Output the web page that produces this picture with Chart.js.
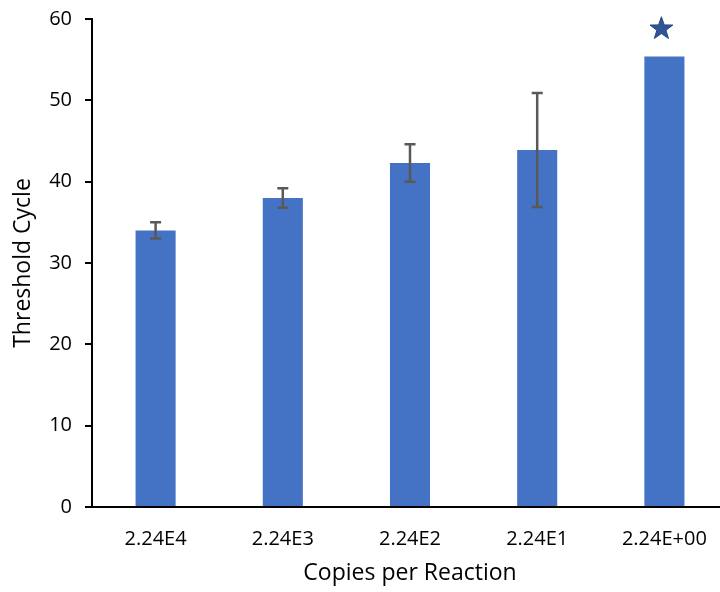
<!DOCTYPE html>
<html>
<head>
<meta charset="utf-8">
<script src="https://cdn.jsdelivr.net/npm/chart.js@4.4.1/dist/chart.umd.min.js"></script>
<style>
  html, body { margin: 0; padding: 0; overflow: hidden; background: #fff; }
  #wrap { width: 720px; height: 592px; overflow: hidden; }
</style>
</head>
<body>
<div id="wrap"><canvas id="ctChart" width="730" height="592"></canvas></div>
<script>
// copies per reaction (dilution series)
const copies = ["2.24E4", "2.24E3", "2.24E2", "2.24E1", "2.24E+00"];
// mean threshold cycle
const meanCt = [34.0, 38.0, 42.3, 43.9, 55.4];
// standard deviation (error bar half-length), none for the last dilution
const sdCt = [1.0, 1.2, 2.3, 7.0, null];
// significance marker position
const starAt = [null, null, null, null, 58.8];
const yTicks = [0, 10, 20, 30, 40, 50, 60];

const font = "'Open Sans', sans-serif";

const errorBars = {
  id: "errorBars",
  afterDatasetsDraw(chart) {
    const ctx = chart.ctx;
    const y = chart.scales.y;
    const bars = chart.getDatasetMeta(0).data;
    ctx.save();
    ctx.strokeStyle = "#595959";
    ctx.lineWidth = 2.5;
    sdCt.forEach((sd, i) => {
      if (sd == null) return;
      const x = bars[i].x;
      const top = y.getPixelForValue(meanCt[i] + sd);
      const bot = y.getPixelForValue(meanCt[i] - sd);
      ctx.beginPath();
      ctx.moveTo(x, top); ctx.lineTo(x, bot);
      ctx.moveTo(x - 5.5, top); ctx.lineTo(x + 5.5, top);
      ctx.moveTo(x - 5.5, bot); ctx.lineTo(x + 5.5, bot);
      ctx.stroke();
    });
    ctx.restore();
  }
};

const stars = {
  id: "stars",
  afterDatasetsDraw(chart) {
    const ctx = chart.ctx;
    const y = chart.scales.y;
    const bars = chart.getDatasetMeta(0).data;
    ctx.save();
    starAt.forEach((v, i) => {
      if (v == null) return;
      const cx = bars[i].x - 3;
      const cy = y.getPixelForValue(v);
      const R = 12, r = 4.8;
      ctx.beginPath();
      for (let k = 0; k < 10; k++) {
        const rad = k % 2 === 0 ? R : r;
        const a = -Math.PI / 2 + k * Math.PI / 5;
        const px = cx + rad * Math.cos(a);
        const py = cy + rad * Math.sin(a);
        if (k === 0) ctx.moveTo(px, py); else ctx.lineTo(px, py);
      }
      ctx.closePath();
      ctx.fillStyle = "#2F5597";
      ctx.fill();
      ctx.strokeStyle = "#24467f";
      ctx.lineWidth = 1;
      ctx.stroke();
    });
    ctx.restore();
  }
};

new Chart(document.getElementById("ctChart"), {
  type: "bar",
  data: {
    labels: copies,
    datasets: [{
      data: meanCt,
      backgroundColor: "#4472C4",
      borderWidth: 0,
      categoryPercentage: 1,
      barPercentage: 0.315
    }]
  },
  options: {
    responsive: false,
    animation: false,
    layout: { padding: { top: 19, right: 2, left: 0, bottom: 0 } },
    plugins: { legend: { display: false }, tooltip: { enabled: false } },
    scales: {
      x: {
        grid: { display: false, drawTicks: false },
        border: { display: true, color: "#000", width: 2 },
        ticks: { color: "#000", padding: 20, font: { family: font, size: 20 }, maxRotation: 0 },
        title: {
          display: true, text: "Copies per Reaction", color: "#000",
          font: { family: font, size: 23 }, padding: { top: 0, bottom: 5 }
        },
        afterFit: (s) => { s.height = 85; }
      },
      y: {
        min: 0, max: 60,
        afterBuildTicks: (s) => { s.ticks = yTicks.map((v) => ({ value: v })); },
        grid: { display: true, drawOnChartArea: false, tickLength: 7, color: "#000", lineWidth: 2 },
        border: { display: true, color: "#000", width: 2 },
        ticks: { color: "#000", padding: 13, font: { family: font, size: 20 } },
        title: {
          display: true, text: "Threshold Cycle", color: "#000",
          font: { family: font, size: 23 }, padding: { top: 10, bottom: 0 }
        },
        afterFit: (s) => {
          s.width = 92;
          s.paddingTop = 0;
          s.paddingBottom = 0;
        }
      }
    }
  },
  plugins: [errorBars, stars]
});
</script>
</body>
</html>
